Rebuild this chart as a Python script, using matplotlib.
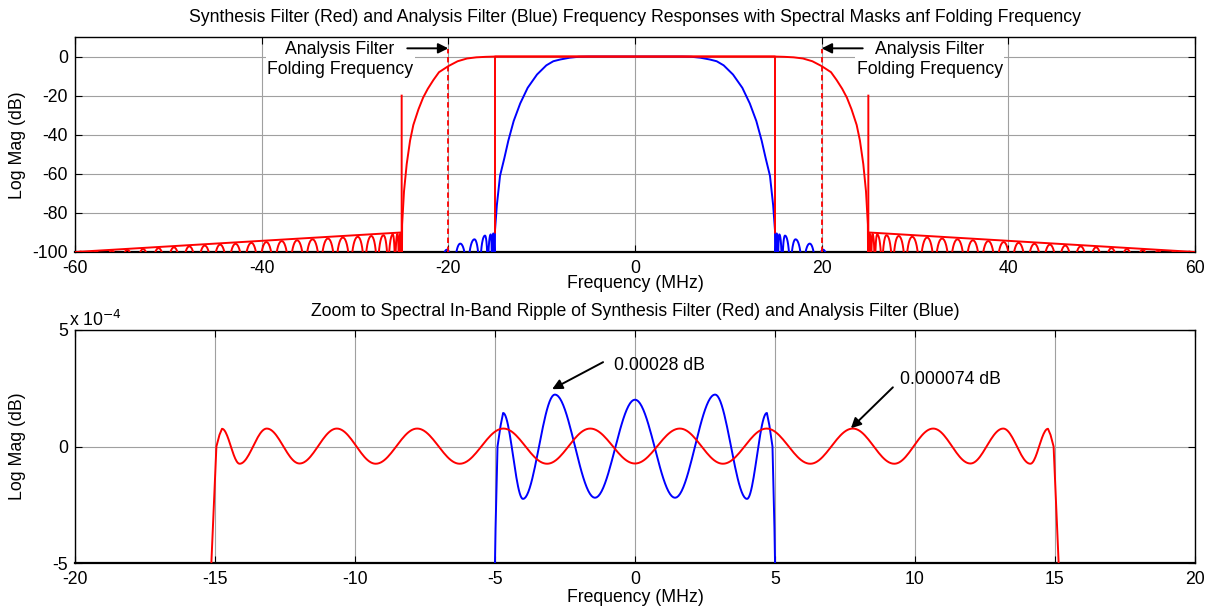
import numpy as np
import matplotlib
matplotlib.use('Agg')
import matplotlib.pyplot as plt

plt.rcParams['font.family'] = ['Liberation Sans', 'DejaVu Sans']
plt.rcParams['font.size'] = 12.7
plt.rcParams['axes.unicode_minus'] = False

FS = 12.7

# ---------------- data: top panel (positive frequencies, response is symmetric) ----------------
syn_tr_f = [0.0, 15.0, 16.0, 17.0, 18.0, 19.0, 20.0, 21.0, 21.6, 22.2, 22.7, 23.2, 23.75, 24.1, 24.46, 24.75, 24.95]
syn_tr_db = [0.0, 0.0, -0.15, -0.4, -1.0, -2.4, -4.9, -8.0, -12.0, -16.5, -21.0, -27.0, -35.0, -43.0, -55.0, -69.0, -86.0]
syn_lobe_f = [25.15, 25.45, 25.95, 26.95, 28.25, 29.7, 31.3, 32.9, 34.55, 36.2, 37.85, 39.5,
              41.1, 42.8, 44.45, 46.1, 47.75, 49.4, 51.05, 52.7, 54.4, 56.05, 57.75, 59.4]
syn_lobe_db = [-90.6, -90.8, -91.0, -91.4, -91.8, -92.2, -92.6, -93.1, -93.5, -94.0, -94.4, -94.9,
               -95.3, -95.8, -96.2, -96.7, -97.1, -97.6, -98.0, -98.5, -98.9, -99.3, -99.6, -99.8]
syn_null_ends = [25.02, 60.25]

ana_tr_f = [0.0, 5.0, 6.0, 7.0, 8.0, 8.75, 9.5, 10.5, 11.5, 12.3, 13.0, 13.57, 14.0, 14.46, 14.8, 15.0]
ana_tr_db = [0.0, 0.0, -0.1, -0.6, -1.5, -2.4, -4.5, -9.2, -16.0, -24.0, -33.0, -43.0, -52.0, -61.0, -76.0, -89.0]
ana_lobe_f = [15.18, 15.46, 16.07, 17.2, 18.72, 20.15]
ana_lobe_db = [-90.5, -91.0, -91.6, -93.5, -95.7, -98.8]
ana_null_ends = [15.06, 20.9]

mask_f = [-60, -25, -25, np.nan, -15, -15, 15, 15, np.nan, 25, 25, 60]
mask_db = [-100, -90, -20, np.nan, -90, 0, 0, -90, np.nan, -20, -90, -100]

fold_f = [-20, 20]
fold_db = [-100, 4]

# ---------------- data: bottom panel (in-band ripple, dB) ----------------
syn_rip_f = [0.0, 1.6, 3.14, 4.7, 6.26, 7.78, 9.26, 10.65, 11.98, 13.15, 14.12, 14.75]
syn_rip_v = [-0.73e-4, 0.77e-4, -0.74e-4, 0.77e-4, -0.74e-4, 0.77e-4, -0.74e-4, 0.77e-4,
             -0.73e-4, 0.77e-4, -0.74e-4, 0.76e-4]
syn_edge_f = [14.84, 14.95, 15.13, 15.25]
syn_edge_v = [0.5e-4, 0.0, -5e-4, -9e-4]

ana_rip_f = [0.0, 1.43, 2.86, 4.0, 4.71]
ana_rip_v = [2.01e-4, -2.2e-4, 2.23e-4, -2.25e-4, 1.44e-4]
ana_edge_f = [4.80, 4.91, 4.98, 5.03]
ana_edge_v = [0.9e-4, 0.0, -3.5e-4, -7e-4]

top_title = ('Synthesis Filter (Red) and Analysis Filter (Blue) Frequency Responses '
             'with Spectral Masks anf Folding Frequency')
bot_title = 'Zoom to Spectral In-Band Ripple of Synthesis Filter (Red) and Analysis Filter (Blue)'
fold_label = 'Analysis Filter\nFolding Frequency'


# ---------------- helpers ----------------
def side_curve(tr_f, tr_db, lobe_f, lobe_db, null_ends):
    f = list(tr_f)
    v = list(tr_db)
    nulls = [null_ends[0]] + [(a + b) / 2 for a, b in zip(lobe_f[:-1], lobe_f[1:])] + [null_ends[1]]
    for i, (pf, pv) in enumerate(zip(lobe_f, lobe_db)):
        t = np.linspace(0, 1, 21)
        up = nulls[i] + (pf - nulls[i]) * t
        dn = pf + (nulls[i + 1] - pf) * t
        sh_up = np.sin(np.pi / 2 * t)
        sh_dn = np.cos(np.pi / 2 * t)
        ff = np.concatenate([up, dn[1:]])
        sh = np.concatenate([sh_up, sh_dn[1:]])
        vv = pv + 20 * np.log10(np.maximum(sh, 1e-8))
        f.extend(ff)
        v.extend(np.maximum(vv, -150))
    f = np.array(f)
    v = np.array(v)
    return np.concatenate([-f[::-1], f[1:]]), np.concatenate([v[::-1], v[1:]])


def ripple_curve(ext_f, ext_v, edge_f, edge_v, n=25):
    ef = np.array(ext_f)
    ev = np.array(ext_v)
    ff_all = np.concatenate([-ef[::-1], ef[1:]])
    vv_all = np.concatenate([ev[::-1], ev[1:]])
    f = []
    v = []
    for i in range(len(ff_all) - 1):
        t = np.linspace(0, 1, n)
        seg_f = ff_all[i] + (ff_all[i + 1] - ff_all[i]) * t
        seg_v = vv_all[i + 1] + (vv_all[i] - vv_all[i + 1]) * (1 + np.cos(np.pi * t)) / 2
        if i > 0:
            seg_f, seg_v = seg_f[1:], seg_v[1:]
        f.extend(seg_f)
        v.extend(seg_v)
    lf = [-x for x in edge_f[::-1]]
    lv = list(edge_v[::-1])
    return (np.concatenate([lf, f, edge_f]), np.concatenate([lv, v, edge_v]))


def style_axes(ax):
    ax.tick_params(direction='in', top=True, right=True, length=5, width=0.8,
                   labelsize=FS, colors='black')
    ax.tick_params(axis='x', pad=6)
    ax.tick_params(axis='y', pad=5)
    ax.grid(True, color='#a0a0a0', lw=0.8)
    ax.set_axisbelow(True)
    for s in ax.spines.values():
        s.set_linewidth(1.0)
    ax.spines['bottom'].set_linewidth(1.6)


# ---------------- figure ----------------
W, H = 1210, 609
fig = plt.figure(figsize=(W / 100, H / 100), dpi=100)

ax1 = fig.add_axes([75 / W, 1 - 252 / H, 1120 / W, 215 / H])
ax2 = fig.add_axes([75 / W, 1 - 563 / H, 1120 / W, 233 / H])

# top panel
af, av = side_curve(ana_tr_f, ana_tr_db, ana_lobe_f, ana_lobe_db, ana_null_ends)
sf, sv = side_curve(syn_tr_f, syn_tr_db, syn_lobe_f, syn_lobe_db, syn_null_ends)
ax1.plot(af, av, color='blue', lw=1.4, zorder=3)
ax1.plot(sf, sv, color='red', lw=1.4, zorder=4)
ax1.plot(mask_f, mask_db, color='red', lw=1.4, zorder=5)
for x in fold_f:
    ax1.plot([x, x], fold_db, color='red', lw=1.3, ls=(0, (3, 2)), zorder=5)

ax1.set_xlim(-60, 60)
ax1.set_ylim(-100, 10)
ax1.set_xticks(np.arange(-60, 61, 20))
ax1.set_yticks(np.arange(-100, 1, 20))
style_axes(ax1)

for side in (-1, 1):
    ax1.text(31.6 * side, -1.4, fold_label, ha='center', va='center', fontsize=FS,
             linespacing=1.2, zorder=6,
             bbox=dict(facecolor='white', edgecolor='none', pad=1.0))
    ax1.annotate('', xy=(20 * side, 4.2), xytext=(24.4 * side, 4.2),
                 arrowprops=dict(arrowstyle='-|>', color='black', lw=1.4,
                                 mutation_scale=15, shrinkA=0, shrinkB=0),
                 zorder=7)

# bottom panel
bf, bv = ripple_curve(ana_rip_f, ana_rip_v, ana_edge_f, ana_edge_v)
rf, rv = ripple_curve(syn_rip_f, syn_rip_v, syn_edge_f, syn_edge_v)
ax2.plot(bf, bv, color='blue', lw=1.4, zorder=3)
ax2.plot(rf, rv, color='red', lw=1.4, zorder=4)
ax2.set_xlim(-20, 20)
ax2.set_ylim(-5e-4, 5e-4)
ax2.set_xticks(np.arange(-20, 21, 5))
ax2.set_yticks([-5e-4, 0, 5e-4])
ax2.set_yticklabels(['-5', '0', '5'])
style_axes(ax2)

ax2.annotate('', xy=(-2.96, 2.46e-4), xytext=(-1.14, 3.62e-4),
             arrowprops=dict(arrowstyle='-|>', color='black', lw=1.4,
                             mutation_scale=15, shrinkA=0, shrinkB=0))
ax2.text(-0.75, 3.49e-4, '0.00028 dB', ha='left', va='center', fontsize=FS)
ax2.annotate('', xy=(7.71, 0.78e-4), xytext=(9.21, 2.54e-4),
             arrowprops=dict(arrowstyle='-|>', color='black', lw=1.4,
                             mutation_scale=15, shrinkA=0, shrinkB=0))
ax2.text(9.46, 2.89e-4, '0.000074 dB', ha='left', va='center', fontsize=FS)

# figure texts
fig.text(635 / W, 1 - 18 / H, top_title, ha='center', va='center', fontsize=FS)
fig.text(635 / W, 1 - 284 / H, 'Frequency (MHz)', ha='center', va='center', fontsize=FS)
fig.text(18 / W, 1 - 145 / H, 'Log Mag (dB)', ha='center', va='center', rotation=90, fontsize=FS)
fig.text(635 / W, 1 - 311 / H, bot_title, ha='center', va='center', fontsize=FS)
fig.text(635 / W, 1 - 598 / H, 'Frequency (MHz)', ha='center', va='center', fontsize=FS)
fig.text(18 / W, 1 - 446 / H, 'Log Mag (dB)', ha='center', va='center', rotation=90, fontsize=FS)
fig.text(69 / W, 1 - 320 / H, r'x 10$^{-4}$', ha='left', va='center', fontsize=FS)

fig.savefig('out.png', dpi=100)
